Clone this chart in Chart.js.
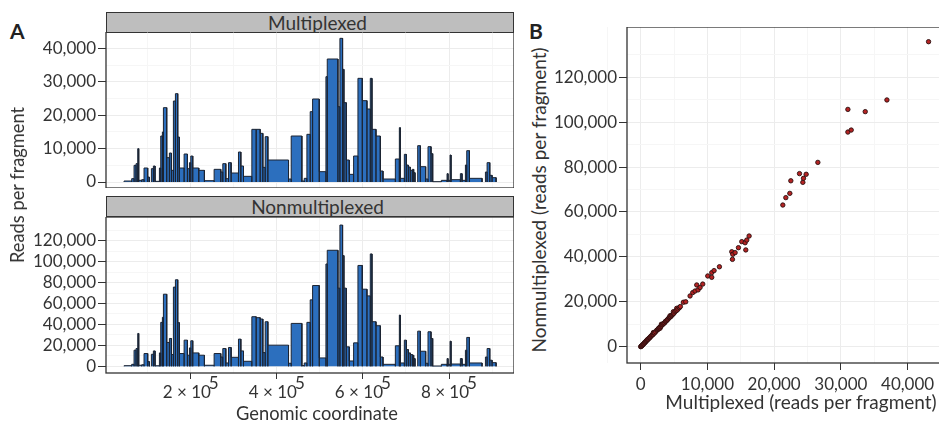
<!DOCTYPE html>
<html>
<head>
<meta charset="utf-8">
<script src="https://cdn.jsdelivr.net/npm/chart.js@4.4.0/dist/chart.umd.min.js"></script>
<style>
  html, body { margin: 0; padding: 0; background: #fff; overflow: hidden; }
  body { width: 939px; height: 429px; position: relative; font-family: Lato, sans-serif; color: #333; }
  .box { position: absolute; }
  .tag { position: absolute; font-weight: bold; font-size: 21px; color: #222; }
  .strip { position: absolute; left: 106px; width: 408px; height: 21px; background: #bebebe; border: 1px solid #333;
           box-sizing: border-box; font-size: 19px; line-height: 19px; text-align: center; padding-left: 15px; }
  .title { position: absolute; font-size: 18.3px; white-space: nowrap; transform: translate(-50%, -50%); }
  .rot { transform: translate(-50%, -50%) rotate(-90deg); }
</style>
</head>
<body>
<div class="tag" style="left:10px; top:18px;">A</div>
<div class="tag" style="left:529px; top:18px;">B</div>

<div class="strip" style="top:12px;">Multiplexed</div>
<div class="strip" style="top:196px;">Nonmultiplexed</div>

<div class="box" style="left:20px; top:32px; width:494px; height:156px;"><canvas id="topChart"></canvas></div>
<div class="box" style="left:20px; top:217px; width:494px; height:201px;"><canvas id="bottomChart"></canvas></div>
<div class="box" style="left:550px; top:27px; width:425px; height:366px;"><canvas id="scatterChart"></canvas></div>

<div class="title rot" style="left:17px; top:185px;">Reads per fragment</div>
<div class="title" style="left:317px; top:413px;">Genomic coordinate</div>
<div class="title" style="left:801px; top:401px; font-size:19px;">Multiplexed (reads per fragment)</div>
<div class="title rot" style="left:538px; top:200px; font-size:19px;">Nonmultiplexed (reads per fragment)</div>

<script>
// fragments along the genome (bp)
const fragStart = [45000,62700,68200,72800,76700,79000,86000,91400,99900,108500,113100,117000,127100,130200,134000,136400,144100,150300,155000,159600,164300,169700,173600,184500,192200,196900,200000,204600,218600,231700,254200,269700,274400,281400,287600,293800,310800,316300,322500,341900,351900,361200,367400,372900,379100,427100,433300,458100,463600,469800,477500,483000,498500,514000,517100,541900,546500,552700,555800,561300,568300,578300,588400,598500,609300,617100,621000,630300,640400,646600,675300,684600,686900,696200,700800,705500,710100,714800,717900,727200,733400,745800,751200,758200,762100,782200,795400,797700,802400,804700,826400,830300,838100,841200,847400,884600,888500,894700,900100];
const fragEnd = [62700,68200,72800,76700,79000,86000,91400,99900,103800,113100,117000,127100,130200,134000,136400,144100,150300,155000,159600,164300,169700,173600,184500,192200,196900,200000,204600,218600,231700,254200,269700,274400,281400,287600,293800,310800,316300,322500,341900,351900,361200,367400,372900,379100,427100,433300,458100,463600,469800,477500,483000,498500,514000,517100,541900,546500,552700,555800,561300,568300,578300,588400,598500,609300,617100,621000,630300,640400,646600,675300,684600,686900,696200,700800,705500,710100,714800,717900,721000,733400,745800,751200,758200,762100,782200,795400,797700,802400,804700,826400,830300,838100,841200,847400,876800,888500,894700,900100,909400];

const multiplexedReads = [300,1000,5000,5500,10000,500,700,4200,1500,4000,4800,200,4200,13800,15000,22300,7300,8700,3500,24300,26500,13500,4200,8400,4000,5800,7800,4200,3500,400,3800,3000,5500,1000,5800,2700,9000,4800,1700,15800,15800,14600,4400,13600,6600,900,13800,300,1100,14300,21100,24900,3100,31600,36900,22600,43100,33800,23800,6600,2300,7800,31100,24400,21900,31100,15800,13800,3300,900,6900,16300,1100,8300,5100,4500,3500,3800,2800,10900,4600,900,10600,8500,100,500,2500,500,8100,700,2500,500,5100,9400,1100,3000,5800,2000,1300];
const nonmultiplexedReads = [600,1900,15400,17000,31400,1000,1500,12200,4500,11500,14700,500,12800,42000,46800,68900,22800,26600,11200,75700,82700,41700,12200,25000,10600,17600,24400,12800,10600,1000,12200,8900,17000,3200,18000,8600,26000,14700,4800,47400,46500,45200,13100,42600,20200,2900,41000,700,3200,42000,63500,77200,8000,97800,110900,74700,135000,105800,74700,18600,5100,22400,96400,73700,67300,107400,42600,38800,8900,1900,19600,49000,3200,25000,16000,12800,11200,10600,7400,33600,14400,2900,33000,26600,300,1900,7400,1900,24000,2200,7400,1900,15400,27600,3200,8900,17000,5800,3500];

// tick values
const genomeTicks = [200000, 400000, 600000, 800000];
const genomeMinor = [100000, 300000, 500000, 700000, 900000];
const topTicks = [0, 10000, 20000, 30000, 40000];
const topMinor = [5000, 15000, 25000, 35000];
const bottomTicks = [0, 20000, 40000, 60000, 80000, 100000, 120000];
const bottomMinor = [10000, 30000, 50000, 70000, 90000, 110000, 130000];
const scatterXTicks = [0, 10000, 20000, 30000, 40000];
const scatterXMinor = [-5000, 5000, 15000, 25000, 35000, 45000];
const scatterYTicks = [0, 20000, 40000, 60000, 80000, 100000, 120000];
const scatterYMinor = [10000, 30000, 50000, 70000, 90000, 110000, 130000];

// panel B: per-fragment reads, multiplexed vs nonmultiplexed
const scatterMultiplexed = [0,60,120,180,250,320,400,470,550,620,700,780,850,930,1000,1080,1150,1250,1330,1420,1500,1600,1700,1800,1900,1900,2000,2100,2250,2400,2500,2600,2650,2700,2800,2900,2900,3000,3100,3100,3200,3300,3400,3500,3600,3700,3800,3900,4000,4100,4200,4300,4400,4400,4500,4600,4700,4800,4900,4900,5000,5150,5300,5400,5450,5600,5800,5800,5950,6400,6750,7400,7800,8150,8400,8600,8900,9300,10050,10650,10650,11000,11800,13650,13750,13800,14150,14650,15150,15650,15750,15900,16250,21300,21750,22350,22500,23800,24300,24400,24800,26550,31050,31050,31550,33650,36900,43140];
const scatterNonmultiplexed = [0,150,300,450,700,900,1150,1300,1700,1800,2100,2300,2600,2800,3100,3300,3400,3800,4000,4200,4600,4800,5100,5400,5600,6300,6100,6200,6700,7300,7500,7700,8000,8200,8500,8200,8700,9000,9300,10000,9800,9900,10200,10500,10700,11200,11400,11700,12000,12300,12700,13000,13200,13800,13400,13800,14100,14400,14700,15600,15000,15600,16000,17100,16300,16800,17400,17500,17900,19800,20000,22600,24100,24800,27500,25300,26400,27900,31500,30900,33000,33900,35600,42300,38900,41150,41900,44100,46800,46300,43100,47500,49300,63100,66400,68300,73900,77100,73200,75000,76800,82100,95600,105700,96500,104700,109900,135850];

Chart.defaults.font.family = 'Lato, sans-serif';
Chart.defaults.font.size = 17;
Chart.defaults.color = '#333';

const fmt = v => v.toLocaleString('en-US');

function barOutline(values) {
    const pts = [];
    for (let i = 0; i < fragStart.length; i++) {
        if (i > 0 && fragStart[i] > fragEnd[i - 1])
            pts.push({x: fragEnd[i - 1], y: null});
        pts.push({x: fragStart[i], y: 0}, {x: fragStart[i], y: values[i]},
                 {x: fragEnd[i], y: values[i]}, {x: fragEnd[i], y: 0});
    }
    return pts;
}

function setTicks(majors, minors) {
    return scale => {
        scale.ticks = majors.concat(minors).sort((a, b) => a - b).map(v => ({value: v}));
    };
}

function gridOpts(majors, tickLength) {
    return {
        color: ctx => majors.includes(ctx.tick && ctx.tick.value) ? '#ececec' : '#f6f6f6',
        tickColor: ctx => majors.includes(ctx.tick && ctx.tick.value) ? '#333' : 'rgba(0,0,0,0)',
        tickLength: tickLength,
        lineWidth: 1
    };
}

const frameBox = {
    id: 'frameBox',
    afterDraw(chart) {
        const a = chart.chartArea, ctx = chart.ctx;
        ctx.save();
        ctx.strokeStyle = '#333';
        ctx.lineWidth = 1.3;
        ctx.strokeRect(a.left, a.top, a.right - a.left, a.bottom - a.top);
        ctx.restore();
    }
};

// raised exponent after the "n × 10" genomic tick labels
const exponentLabels = {
    id: 'exponentLabels',
    afterDraw(chart) {
        const scale = chart.scales.x;
        if (!scale.options.ticks.display) return;
        const ctx = chart.ctx;
        ctx.save();
        ctx.font = '17px Lato, sans-serif';
        ctx.fillStyle = '#333';
        ctx.textBaseline = 'middle';
        ctx.textAlign = 'left';
        for (const v of genomeTicks) {
            const label = `${v / 100000} × 10`;
            const w = ctx.measureText(label).width;
            const px = scale.getPixelForValue(v) + scale.options.ticks.labelOffset + w / 2 - 2;
            ctx.fillText('5', px, scale.top + 11);
        }
        ctx.restore();
    }
};

function facetChart(canvasId, values, yMin, yMax, yMajors, yMinors, showX) {
    return new Chart(document.getElementById(canvasId), {
        type: 'line',
        data: {
            datasets: [{
                data: barOutline(values),
                backgroundColor: '#2c6fbe',
                borderColor: '#1c2432',
                borderWidth: 1,
                pointRadius: 0,
                tension: 0,
                fill: 'origin'
            }]
        },
        options: {
            responsive: true,
            maintainAspectRatio: false,
            animation: false,
            layout: {padding: 0, autoPadding: false},
            plugins: {legend: {display: false}, tooltip: {enabled: false}},
            scales: {
                x: {
                    type: 'linear',
                    min: 3000,
                    max: 951000,
                    afterBuildTicks: setTicks(genomeTicks, genomeMinor),
                    grid: Object.assign(gridOpts(genomeTicks, showX ? 6 : 0), {drawTicks: showX}),
                    border: {display: false},
                    ticks: {
                        display: showX,
                        maxRotation: 0,
                        autoSkip: false,
                        padding: 3,
                        labelOffset: -4,
                        callback: v => genomeTicks.includes(v) ? `${v / 100000} × 10` : ''
                    },
                    afterFit: s => { s.height = showX ? 45 : 0; s.paddingLeft = 0; s.paddingRight = 0; }
                },
                y: {
                    min: yMin,
                    max: yMax,
                    afterBuildTicks: setTicks(yMajors, yMinors),
                    grid: gridOpts(yMajors, 8),
                    border: {display: false},
                    ticks: {
                        padding: 2,
                        autoSkip: false,
                        callback: v => yMajors.includes(v) ? fmt(v) : ''
                    },
                    afterFit: s => { s.width = 86; s.paddingTop = 0; s.paddingBottom = 0; }
                }
            }
        },
        plugins: [frameBox, exponentLabels]
    });
}

facetChart('topChart', multiplexedReads, -1800, 45000, topTicks, topMinor, false);
facetChart('bottomChart', nonmultiplexedReads, -6400, 142700, bottomTicks, bottomMinor, true);

const scatterPoints = scatterMultiplexed.map((x, i) => ({x: x, y: scatterNonmultiplexed[i]}));

new Chart(document.getElementById('scatterChart'), {
    type: 'scatter',
    data: {
        datasets: [{
            data: scatterPoints,
            backgroundColor: '#b52323',
            borderColor: '#2a1010',
            borderWidth: 0.9,
            pointRadius: 2.2
        }]
    },
    options: {
        responsive: true,
        maintainAspectRatio: false,
        animation: false,
        layout: {padding: 0, autoPadding: false},
        plugins: {legend: {display: false}, tooltip: {enabled: false}},
        scales: {
            x: {
                type: 'linear',
                min: -2050,
                max: 50100,
                afterBuildTicks: setTicks(scatterXTicks, scatterXMinor),
                grid: gridOpts(scatterXTicks, 7),
                border: {display: false},
                ticks: {
                    padding: 4,
                    maxRotation: 0,
                    autoSkip: false,
                    callback: v => scatterXTicks.includes(v) ? fmt(v) : ''
                },
                afterFit: s => { s.height = 30; s.paddingLeft = 0; s.paddingRight = 0; }
            },
            y: {
                min: -7260,
                max: 142400,
                afterBuildTicks: setTicks(scatterYTicks, scatterYMinor),
                grid: gridOpts(scatterYTicks, 8),
                border: {display: false},
                ticks: {
                    padding: 2,
                    autoSkip: false,
                    callback: v => scatterYTicks.includes(v) ? fmt(v) : ''
                },
                afterFit: s => { s.width = 77; s.paddingTop = 0; s.paddingBottom = 0; }
            }
        }
    },
    plugins: [frameBox]
});
</script>
</body>
</html>
